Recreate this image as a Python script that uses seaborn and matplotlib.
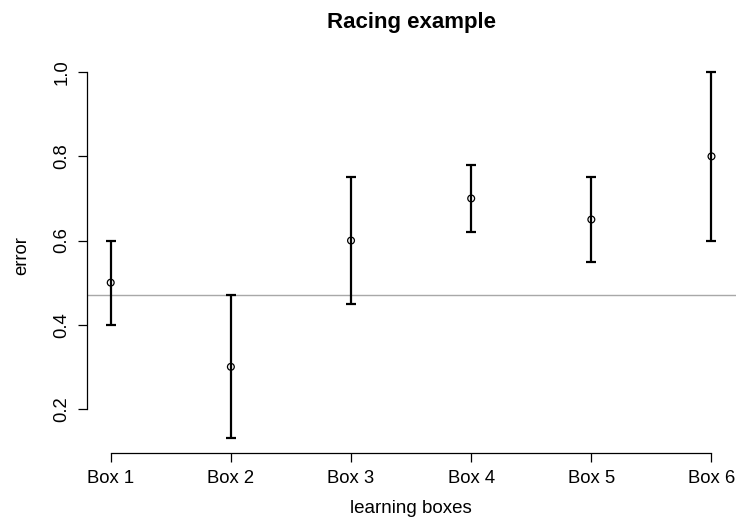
#!/usr/bin/python3

# Racing example: error per learning box with error bars

import seaborn as sns
import matplotlib.pyplot as plt
import pandas as pd
import numpy as np

# data
boxes = ["Box 1", "Box 2", "Box 3", "Box 4", "Box 5", "Box 6"]
mean_err = [0.50, 0.30, 0.60, 0.70, 0.65, 0.80]
lower = [0.40, 0.13, 0.45, 0.62, 0.55, 0.60]
upper = [0.60, 0.47, 0.75, 0.78, 0.75, 1.00]
baseline = 0.47
yticks = [0.2, 0.4, 0.6, 0.8, 1.0]

df = pd.DataFrame({"box": boxes, "error": mean_err, "lo": lower, "hi": upper})
df["pos"] = np.arange(1, len(boxes) + 1)

sns.set_style("ticks")
plt.rcParams["font.family"] = ["Liberation Sans", "DejaVu Sans"]
plt.rcParams["text.color"] = "black"
plt.rcParams["axes.labelcolor"] = "black"
plt.rcParams["xtick.color"] = "black"
plt.rcParams["ytick.color"] = "black"
plt.rcParams["axes.edgecolor"] = "black"

fig = plt.figure(figsize=(7.39, 5.28), dpi=100)
ax = fig.add_axes([0.1173, 0.142, 0.878, 0.749])

# reference line
ax.axhline(baseline, color="#a8a8a8", lw=1.0, zorder=1)

# error bars
ax.errorbar(df["pos"], df["error"],
            yerr=[df["error"] - df["lo"], df["hi"] - df["error"]],
            fmt="none", ecolor="black", elinewidth=1.6, capsize=3.3,
            capthick=1.6, zorder=2)

# points (open circles)
sns.scatterplot(data=df, x="pos", y="error", ax=ax, marker="o", s=24,
                facecolor="none", edgecolor="black", linewidth=0.9, zorder=3)

# scale
ax.set_xlim(0.8, 6.2)
ax.set_ylim(0.0952, 1.0348)
ax.set_xticks(df["pos"])
ax.set_xticklabels(boxes)
ax.set_yticks(yticks)
ax.set_yticklabels([f"{v:.1f}" for v in yticks], rotation=90, va="center")

# R-style axes
sns.despine(ax=ax)
ax.spines["bottom"].set_bounds(1, 6)
ax.spines["left"].set_bounds(0.2, 1.0)
for s in ["left", "bottom"]:
    ax.spines[s].set_linewidth(0.9)
ax.tick_params(axis="both", length=6.5, width=0.9, labelsize=13.3)
ax.tick_params(axis="x", pad=6)
ax.tick_params(axis="y", pad=5)

# labels
ax.set_xlabel("learning boxes", fontsize=13.5, labelpad=9)
ax.set_ylabel("error", fontsize=13.3, labelpad=17)
ax.set_title("Racing example", fontsize=16, fontweight="bold", pad=21)

fig.savefig("out.png", dpi=100)
